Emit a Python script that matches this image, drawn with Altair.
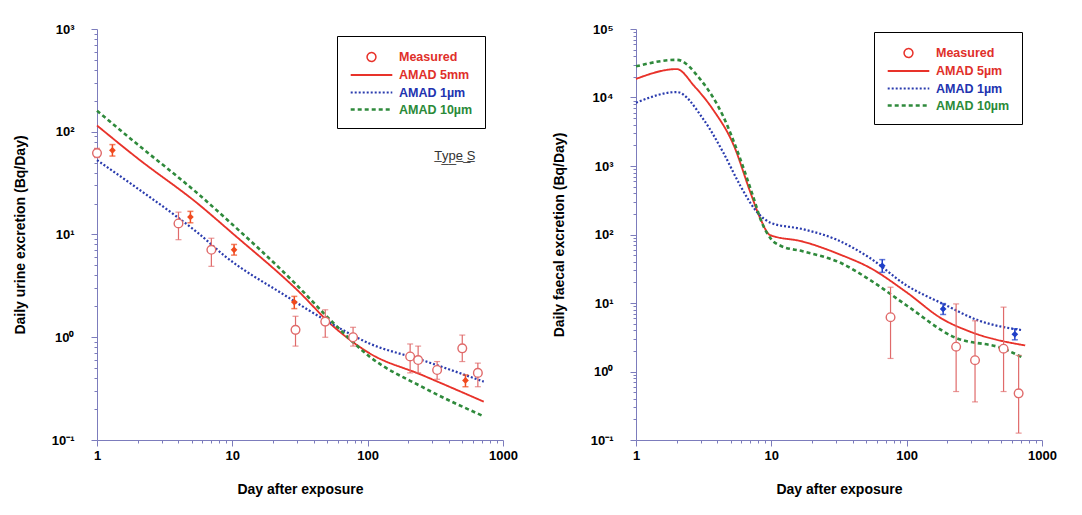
import altair as alt
import pandas as pd

# ---------------- data: left panel (urine, Type S) ----------------
U_NAMES = ["Measured", "AMAD 5mm", "AMAD 1µm", "AMAD 10µm"]
U5_DAY = [1, 2, 5.6, 10, 30, 56, 103, 251, 721]
U5_VAL = [115, 55, 19.8, 10.3, 2.9, 1.27, 0.70, 0.43, 0.236]
U1_DAY = [1, 2, 4, 5.6, 8.9, 24, 56, 103, 251, 721]
U1_VAL = [53, 28, 14.5, 10.3, 6.1, 2.6, 1.32, 0.87, 0.60, 0.37]
U10_DAY = [1, 2, 5.6, 8.9, 28.7, 56, 103, 251, 721]
U10_VAL = [160, 75, 24.8, 14.4, 3.4, 1.37, 0.65, 0.33, 0.17]

U_MEAS_DAY = [1, 4.0, 7.0, 29.3, 48.6, 78, 206, 236, 326, 500, 652]
U_MEAS_VAL = [62, 12.8, 7.1, 1.18, 1.42, 1.0, 0.65, 0.60, 0.48, 0.78, 0.45]
U_MEAS_LO = [56, 8.9, 4.9, 0.82, 1.0, 0.82, 0.45, 0.45, 0.39, 0.58, 0.33]
U_MEAS_HI = [69, 16.5, 9.2, 1.6, 1.85, 1.25, 0.86, 0.82, 0.58, 1.05, 0.56]

U_MARK_DAY = [1.3, 4.9, 10.3, 28.7, 528]
U_MARK_VAL = [66, 14.8, 7.1, 2.2, 0.38]
U_MARK_LO = [58, 13.0, 6.3, 1.9, 0.33]
U_MARK_HI = [75, 16.8, 8.0, 2.5, 0.43]

# ---------------- data: right panel (faeces) ----------------
F_NAMES = ["Measured", "AMAD 5µm", "AMAD 1µm", "AMAD 10µm"]
F5_DAY = [1, 2, 2.7, 3.7, 5.3, 7, 8.3, 9.8, 17, 33, 53, 100, 182, 296, 751]
F5_VAL = [18700, 26000, 14600, 6700, 1960, 412, 170, 98, 79, 50, 33, 14.3, 5.9, 3.8, 2.4]
F1_DAY = [1, 2, 3.15, 4.4, 5.9, 7.8, 10, 17, 30, 53, 100, 186, 345, 720]
F1_VAL = [8400, 12000, 4800, 1590, 515, 215, 147, 120, 85, 46, 18, 9.7, 5.5, 4.0]
F10_DAY = [1, 2, 3, 4.4, 5.9, 7.3, 8.5, 10, 11.8, 17, 33, 53, 100, 222, 520, 720]
F10_VAL = [28500, 35500, 18200, 5350, 1260, 370, 150, 85, 68, 57, 38, 22, 9.2, 3.2, 2.15, 1.6]

F_MEAS_DAY = [76, 232, 320, 520, 672]
F_MEAS_VAL = [6.2, 2.3, 1.46, 2.15, 0.48]
F_MEAS_LO = [1.55, 0.51, 0.36, 0.51, 0.126]
F_MEAS_HI = [17, 9.7, 5.5, 8.7, 1.72]

F_MARK_DAY = [66, 186, 630]
F_MARK_VAL = [35, 8.2, 3.5]
F_MARK_LO = [28, 6.8, 2.9]
F_MARK_HI = [43, 9.8, 4.2]

TYPE_LABEL = "T̲y̲p̲e̲ ̲S̲"
TYPE_POS = (440, 58)

# ---------------- styles ----------------
RED = "#e8322a"
BLUE = "#2b3cae"
GREEN = "#2f8a3c"
MEAS = "#e06a6a"
AXIS = "#7c7cbc"
FONT = "Liberation Sans"
SERIES_COLORS = [RED, RED, BLUE, GREEN]
SERIES_DASH = [[1, 0], [1, 0], [2, 2], [4, 3]]
W, H = 406, 411


def line_frame(names, sets):
    rows = []
    for name, (days, vals) in zip(names[1:], sets):
        for d, v in zip(days, vals):
            rows.append({"day": d, "val": v, "series": name})
    return pd.DataFrame(rows)


def tick_values(lo_exp, hi_exp):
    out = []
    for e in range(lo_exp, hi_exp):
        for m in range(1, 10):
            out.append(round(m * 10.0 ** e, 6))
    out.append(round(10.0 ** hi_exp, 6))
    return out


MAJOR_TEST = "abs(log(datum.value)/LN10 - round(log(datum.value)/LN10)) < 1e-6"
SUP = ("datum.value < 0.5 ? '10⁻¹' : datum.value < 5 ? '10⁰' : datum.value < 50 ? '10¹' : "
       "datum.value < 500 ? '10²' : datum.value < 5000 ? '10³' : datum.value < 50000 ? '10⁴' : '10⁵'")
CIRCLE_PATH = "M -0.55,0 A 0.55,0.55 0 1,0 0.55,0 A 0.55,0.55 0 1,0 -0.55,0 Z"
STROKE_PATH = "M -2.6,0 L 2.6,0"


def panel(names, sets, meas, marks, mark_color, y_exp, ytitle, legend_xy, annot=None):
    ylo, yhi = y_exp
    x_axis = alt.Axis(
        values=tick_values(0, 3), title="Day after exposure",
        labelExpr=f"({MAJOR_TEST}) ? format(datum.value, 'd') : ''",
        tickSize={"condition": {"test": MAJOR_TEST, "value": 6}, "value": 3},
        grid=False, domainColor=AXIS, tickColor=AXIS, labelColor="black",
        labelFont=FONT, labelFontSize=13, labelFontWeight="bold", labelPadding=3,
        titleFont=FONT, titleFontSize=14, titleFontWeight="bold", titlePadding=20,
        labelFlush=False, labelOverlap=False,
    )
    y_axis = alt.Axis(
        values=tick_values(ylo, yhi), title=ytitle,
        labelExpr=f"({MAJOR_TEST}) ? ({SUP}) : ''",
        tickSize={"condition": {"test": MAJOR_TEST, "value": 6}, "value": 3},
        grid=False, domainColor=AXIS, tickColor=AXIS, labelColor="black",
        labelFont=FONT, labelFontSize=13, labelFontWeight="bold", labelPadding=17,
        titleFont=FONT, titleFontSize=14, titleFontWeight="bold", titlePadding=24,
        labelFlush=False, labelOverlap=False,
    )
    xs = alt.Scale(type="log", domain=[1, 1000], nice=False)
    ys = alt.Scale(type="log", domain=[10.0 ** ylo, 10.0 ** yhi], nice=False)
    X = alt.X("day:Q", scale=xs, axis=x_axis)
    Y = alt.Y("val:Q", scale=ys, axis=y_axis)

    legend = alt.Legend(
        title=None, orient="none", legendX=legend_xy[0], legendY=legend_xy[1],
        strokeColor="black", fillColor="white", padding=12,
        symbolType={"expr": f"datum.value === 'Measured' ? '{CIRCLE_PATH}' : '{STROKE_PATH}'"},
        symbolSize=256, symbolStrokeWidth=2, symbolFillColor="transparent",
        symbolOffset=13,
        labelColor={"expr": "datum.value === 'AMAD 1µm' ? '#2233b0' : datum.value === 'AMAD 10µm' ? '#2a8a38' : '#e0302a'"},
        labelFont=FONT, labelFontSize=12.5, labelFontWeight="bold", labelOffset=18,
        rowPadding=1, labelLimit=200,
    )
    ldf = line_frame(names, sets)
    lines = alt.Chart(ldf).mark_line(interpolate="monotone").encode(
        x=X, y=Y,
        color=alt.Color("series:N", scale=alt.Scale(domain=names, range=SERIES_COLORS), legend=legend),
        strokeDash=alt.StrokeDash("series:N", scale=alt.Scale(domain=names, range=SERIES_DASH), legend=legend),
        strokeWidth=alt.StrokeWidth("series:N", scale=alt.Scale(domain=names, range=[1.5, 2.6, 1.7, 2.2]), legend=None),
    )

    mdf = pd.DataFrame({"day": meas[0], "val": meas[1], "lo": meas[2], "hi": meas[3]})
    err = alt.Chart(mdf).mark_rule(color=MEAS, strokeWidth=1.2).encode(
        x="day:Q", y="lo:Q", y2="hi:Q")
    cap_lo = alt.Chart(mdf).mark_tick(color=MEAS, orient="horizontal", size=6, thickness=1.2).encode(
        x="day:Q", y="lo:Q")
    cap_hi = alt.Chart(mdf).mark_tick(color=MEAS, orient="horizontal", size=6, thickness=1.2).encode(
        x="day:Q", y="hi:Q")
    circles = alt.Chart(mdf).mark_point(shape="circle", filled=False, fill="white", fillOpacity=1,
                                        stroke=MEAS, strokeWidth=1.4, size=75, opacity=1).encode(
        x="day:Q", y="val:Q")

    kdf = pd.DataFrame({"day": marks[0], "val": marks[1], "lo": marks[2], "hi": marks[3]})
    kerr = alt.Chart(kdf).mark_rule(color=mark_color, strokeWidth=1.5).encode(
        x="day:Q", y="lo:Q", y2="hi:Q")
    kcap_lo = alt.Chart(kdf).mark_tick(color=mark_color, orient="horizontal", size=6, thickness=1.5).encode(
        x="day:Q", y="lo:Q")
    kcap_hi = alt.Chart(kdf).mark_tick(color=mark_color, orient="horizontal", size=6, thickness=1.5).encode(
        x="day:Q", y="hi:Q")
    kpts = alt.Chart(kdf).mark_point(shape="diamond", filled=True, color=mark_color, size=45, opacity=1).encode(
        x="day:Q", y="val:Q")

    layers = [lines, err, cap_lo, cap_hi, circles, kerr, kcap_lo, kcap_hi, kpts]
    if annot is not None:
        adf = pd.DataFrame({"day": [annot[0]], "val": [annot[1]], "txt": [annot[2]]})
        layers.append(alt.Chart(adf).mark_text(font=FONT, fontSize=13, color="#333333", align="center").encode(
            x="day:Q", y="val:Q", text="txt:N"))
    return alt.layer(*layers).properties(width=W, height=H)


left = panel(U_NAMES,
             [(U5_DAY, U5_VAL), (U1_DAY, U1_VAL), (U10_DAY, U10_VAL)],
             (U_MEAS_DAY, U_MEAS_VAL, U_MEAS_LO, U_MEAS_HI),
             (U_MARK_DAY, U_MARK_VAL, U_MARK_LO, U_MARK_HI), "#f04a1e",
             (-1, 3), "Daily urine excretion (Bq/Day)", (240, 7),
             annot=(TYPE_POS[0], TYPE_POS[1], TYPE_LABEL))
right = panel(F_NAMES,
              [(F5_DAY, F5_VAL), (F1_DAY, F1_VAL), (F10_DAY, F10_VAL)],
              (F_MEAS_DAY, F_MEAS_VAL, F_MEAS_LO, F_MEAS_HI),
              (F_MARK_DAY, F_MARK_VAL, F_MARK_LO, F_MARK_HI), "#1f3fc8",
              (-1, 5), "Daily faecal excretion (Bq/Day)", (238, 3))

chart = alt.hconcat(left, right, spacing=34).resolve_scale(
    color="independent", strokeDash="independent", strokeWidth="independent",
    x="independent", y="independent",
).configure_view(stroke=None).properties(
    padding={"left": 5, "top": 15, "right": 5, "bottom": 5},
    background="white",
)

chart.save("out.html", embed_options={"renderer": "svg", "actions": False})
